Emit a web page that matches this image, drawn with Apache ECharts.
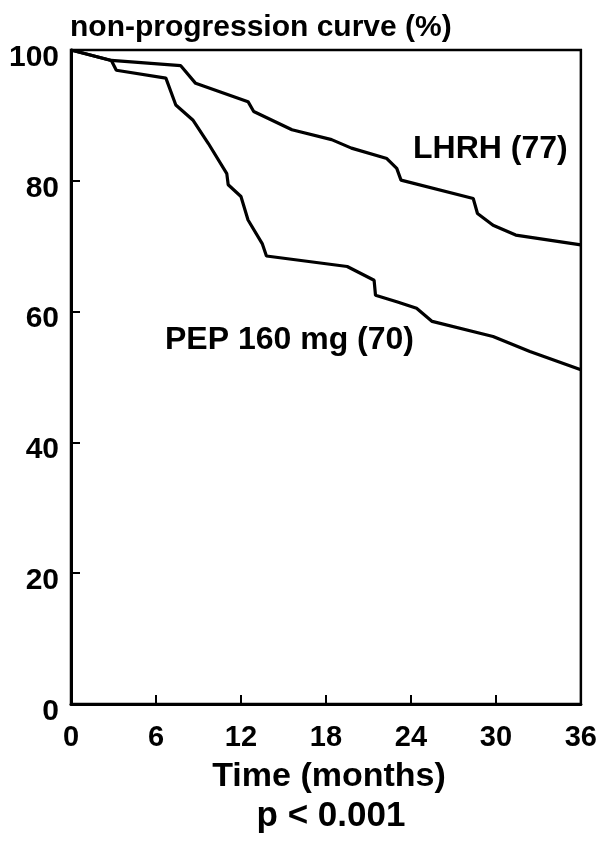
<!DOCTYPE html>
<html>
<head>
<meta charset="utf-8">
<script src="https://cdn.jsdelivr.net/npm/echarts@6/dist/echarts.min.js"></script>
<style>
  html, body { margin: 0; padding: 0; background: #fff; }
  #chart { width: 600px; height: 841px; }
</style>
</head>
<body>
<div id="chart"></div>
<script>
// months / percent
var lhrhMonths = [0, 2.85, 7.75, 8.8, 12.5, 12.9, 15.6, 18.4, 19.8, 22.3, 23.0, 23.3, 28.4, 28.7, 29.8, 31.4, 36];
var lhrhPct = [100, 98.4, 97.6, 94.9, 92.1, 90.6, 87.8, 86.3, 85.0, 83.4, 81.9, 80.1, 77.3, 75.0, 73.2, 71.7, 70.2];

var pepMonths = [0, 2.85, 3.2, 6.7, 7.4, 8.6, 9.7, 11.0, 11.1, 12.0, 12.5, 13.5, 13.8, 19.5, 21.4, 21.5, 23.0, 24.4, 25.5, 29.8, 32.4, 36];
var pepPct = [100, 98.4, 96.9, 95.7, 91.6, 89.3, 85.7, 81.1, 79.4, 77.6, 74.0, 70.4, 68.5, 66.9, 64.8, 62.5, 61.5, 60.5, 58.5, 56.2, 53.9, 51.1];

var xTicks = [0, 6, 12, 18, 24, 30, 36];
var yTicks = [0, 20, 40, 60, 80, 100];

function pairs(xs, ys) {
  var out = [];
  for (var i = 0; i < xs.length; i++) {
    out.push([xs[i], ys[i]]);
  }
  return out;
}

var chart = echarts.init(document.getElementById("chart"));
var font = "Liberation Sans, Arial, Helvetica, sans-serif";

var option = {
  animation: false,
  grid: {
    left: 71,
    right: 15,
    top: 50,
    bottom: 137,
    show: true,
    borderColor: "#000",
    borderWidth: 2.5,
    backgroundColor: "#fff"
  },
  xAxis: {
    type: "value",
    min: xTicks[0],
    max: xTicks[xTicks.length - 1],
    interval: 6,
    axisLine: { show: true, onZero: false, lineStyle: { color: "#000", width: 3 } },
    axisTick: { show: true, inside: true, length: 9, lineStyle: { color: "#000", width: 2 } },
    axisLabel: {
      color: "#000",
      fontFamily: font,
      fontWeight: "bold",
      fontSize: 29,
      margin: 19
    },
    splitLine: { show: false }
  },
  yAxis: {
    type: "value",
    min: yTicks[0],
    max: yTicks[yTicks.length - 1],
    interval: 20,
    axisLine: { show: true, onZero: false, lineStyle: { color: "#000", width: 3 } },
    axisTick: { show: true, inside: true, length: 9, lineStyle: { color: "#000", width: 2 } },
    axisLabel: {
      color: "#000",
      fontFamily: font,
      fontWeight: "bold",
      fontSize: 30,
      margin: 12,
      verticalAlign: "top",
      lineHeight: 15
    },
    splitLine: { show: false }
  },
  series: [
    {
      name: "LHRH (77)",
      type: "line",
      data: pairs(lhrhMonths, lhrhPct),
      showSymbol: false,
      lineStyle: { color: "#000", width: 3.2 },
      z: 5
    },
    {
      name: "PEP 160 mg (70)",
      type: "line",
      data: pairs(pepMonths, pepPct),
      showSymbol: false,
      lineStyle: { color: "#000", width: 3.2 },
      z: 5
    }
  ],
  graphic: [
    {
      type: "text",
      left: 70,
      top: 13,
      style: { text: "non-progression curve (%)", fill: "#000", font: "bold 30px " + font }
    },
    {
      type: "text",
      left: 413,
      top: 133,
      style: { text: "LHRH (77)", fill: "#000", font: "bold 32px " + font }
    },
    {
      type: "text",
      left: 165,
      top: 324,
      style: { text: "PEP 160 mg (70)", fill: "#000", font: "bold 32px " + font }
    },
    {
      type: "text",
      x: 329,
      y: 777,
      style: { text: "Time (months)", fill: "#000", font: "bold 34px " + font, align: "center", verticalAlign: "middle" }
    },
    {
      type: "text",
      x: 331,
      y: 816,
      style: { text: "p < 0.001", fill: "#000", font: "bold 35px " + font, align: "center", verticalAlign: "middle" }
    }
  ]
};

chart.setOption(option);
window.addEventListener("resize", function () {
  chart.resize();
});
</script>
</body>
</html>
